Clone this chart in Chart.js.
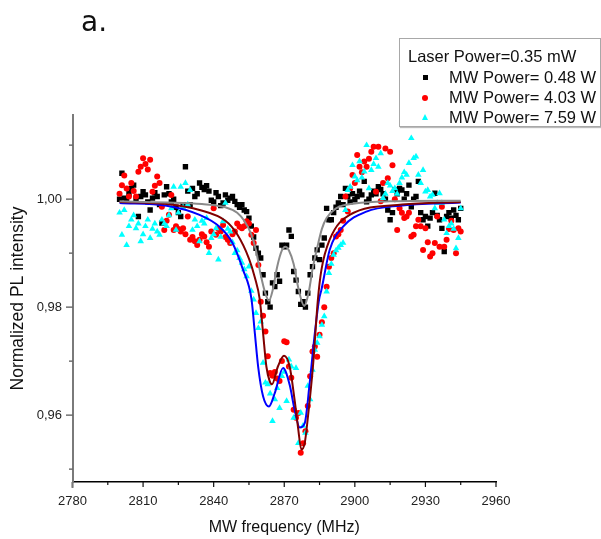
<!DOCTYPE html>
<html>
<head>
<meta charset="utf-8">
<script src="https://cdn.jsdelivr.net/npm/chart.js@4.4.1/dist/chart.umd.min.js"></script>
<style>
  body { margin: 0; background: #fff; }
  #wrap { position: relative; width: 601px; height: 539px; font-family: "Liberation Sans", Arial, sans-serif; }
  #panel { position: absolute; left: 81px; top: 8px; font: 28px/28px "DejaVu Sans", Verdana, sans-serif; color: #111; }
  #legend { position: absolute; left: 399px; top: 38px; width: 200px; height: 87px; border: 1px solid #a8a8a8;
            box-shadow: 1px 1px 1px #bbb; background: #fff; font-size: 16.5px; color: #111; }
  #legend span { position: absolute; line-height: 20px; white-space: nowrap; }
  .mk { position: absolute; }
  .sq { width: 5px; height: 5px; background: #000; }
  .ci { width: 6px; height: 6px; border-radius: 50%; background: #ff0000; }
  .tr { width: 0; height: 0; border-left: 3.5px solid transparent; border-right: 3.5px solid transparent; border-bottom: 6px solid #00ffff; }
</style>
</head>
<body>
<div id="wrap">
  <canvas id="chart" width="601" height="539"></canvas>
  <div id="panel">a.</div>
  <div id="legend">
    <span style="left:8px; top:7px">Laser Power=0.35 mW</span>
    <div class="mk sq" style="left:23px; top:36px"></div><span style="left:49px; top:28px">MW Power= 0.48 W</span>
    <div class="mk ci" style="left:22px; top:56px"></div><span style="left:49px; top:48px">MW Power= 4.03 W</span>
    <div class="mk tr" style="left:21.5px; top:75px"></div><span style="left:49px; top:68px">MW Power= 7.59 W</span>
  </div>
</div>
<script>
// sweep frequencies (MHz)
const freq = [
  2800, 2801, 2802, 2803, 2804, 2805, 2806, 2807, 2808, 2809,
  2810, 2811, 2812, 2813, 2814, 2815, 2816, 2817, 2818, 2819,
  2820, 2821, 2822, 2823, 2824, 2825, 2826, 2827, 2828, 2829,
  2830, 2831, 2832, 2833, 2834, 2835, 2836, 2837, 2838, 2839,
  2840, 2841, 2842, 2843, 2844, 2845, 2846, 2847, 2848, 2849,
  2850, 2851, 2852, 2853, 2854, 2855, 2856, 2857, 2858, 2859,
  2860, 2861, 2862, 2863, 2864, 2865, 2866, 2867, 2868, 2869,
  2870, 2871, 2872, 2873, 2874, 2875, 2876, 2877, 2878, 2879,
  2880, 2881, 2882, 2883, 2884, 2885, 2886, 2887, 2888, 2889,
  2890, 2891, 2892, 2893, 2894, 2895, 2896, 2897, 2898, 2899,
  2900, 2901, 2902, 2903, 2904, 2905, 2906, 2907, 2908, 2909,
  2910, 2911, 2912, 2913, 2914, 2915, 2916, 2917, 2918, 2919,
  2920, 2921, 2922, 2923, 2924, 2925, 2926, 2927, 2928, 2929,
  2930, 2931, 2932, 2933, 2934, 2935, 2936, 2937, 2938, 2939,
  2940, 2941, 2942, 2943, 2944, 2945
];

// MW Power = 0.48 W
const pl048 = [
  1.0000, 1.0048, 1.0002, 0.9998, 1.0010, 1.0020, 1.0026, 1.0000, 0.9968, 1.0005,
  1.0014, 1.0008, 0.9995, 0.9980, 1.0002, 1.0012, 1.0005, 0.9990, 0.9956, 1.0008,
  1.0023, 1.0010, 0.9995, 1.0000, 0.9985, 0.9975, 0.9968, 0.9990, 1.0060, 1.0015,
  0.9990, 1.0020, 1.0005, 1.0010, 1.0030, 1.0022, 1.0018, 1.0025, 1.0015, 0.9998,
  0.9995, 1.0012, 1.0005, 0.9988, 0.9993, 1.0008, 0.9998, 1.0002, 1.0005, 0.9996,
  0.9990, 0.9985, 0.9990, 0.9980, 0.9977, 0.9965, 0.9950, 0.9930, 0.9909, 0.9900,
  0.9891, 0.9860, 0.9826, 0.9810, 0.9800, 0.9845, 0.9838, 0.9860, 0.9848, 0.9915,
  0.9912, 0.9915, 0.9943, 0.9931, 0.9866, 0.9850, 0.9829, 0.9805, 0.9810, 0.9800,
  0.9826, 0.9860, 0.9875, 0.9891, 0.9906, 0.9888, 0.9915, 0.9928, 0.9983, 0.9962,
  0.9962, 0.9975, 0.9985, 0.9993, 1.0005, 0.9990, 1.0020, 1.0005, 0.9995, 1.0010,
  0.9999, 1.0005, 1.0015, 1.0008, 1.0033, 0.9995, 1.0000, 1.0008, 1.0015, 1.0010,
  1.0023, 1.0018, 1.0010, 1.0000, 0.9980, 0.9962, 0.9975, 1.0017, 1.0010, 1.0020,
  1.0017, 1.0000, 1.0010, 1.0026, 0.9986, 1.0000, 1.0005, 1.0033, 0.9975, 0.9962,
  0.9968, 0.9950, 0.9965, 0.9975, 1.0011, 0.9970, 0.9962, 0.9946, 0.9903, 0.9968,
  0.9975, 0.9965, 0.9980, 0.9970, 0.9962, 0.9983
];

// MW Power = 4.03 W
const pl403 = [
  1.0010, 1.0026, 1.0044, 1.0020, 1.0005, 1.0030, 1.0015, 1.0005, 1.0051, 1.0060,
  1.0076, 1.0065, 1.0055, 1.0073, 1.0014, 1.0025, 1.0042, 1.0030, 0.9986, 0.9943,
  0.9960, 0.9971, 1.0008, 0.9943, 0.9950, 0.9945, 0.9940, 0.9946, 0.9935, 0.9968,
  0.9925, 0.9930, 0.9922, 0.9915, 0.9925, 0.9935, 0.9931, 0.9920, 0.9912, 0.9940,
  0.9983, 0.9934, 0.9945, 0.9940, 0.9952, 0.9930, 0.9925, 0.9919, 0.9935, 0.9940,
  0.9955, 0.9949, 0.9946, 0.9950, 0.9959, 0.9955, 0.9934, 0.9919, 0.9943, 0.9878,
  0.9810, 0.9784, 0.9755, 0.9709, 0.9678, 0.9673, 0.9680, 0.9668, 0.9663, 0.9700,
  0.9737, 0.9735, 0.9690, 0.9669, 0.9610, 0.9595, 0.9604, 0.9530, 0.9548, 0.9570,
  0.9617, 0.9672, 0.9718, 0.9727, 0.9708, 0.9749, 0.9772, 0.9800, 0.9838, 0.9875,
  0.9891, 0.9900, 0.9931, 0.9935, 0.9943, 0.9960, 1.0005, 0.9977, 1.0020, 1.0045,
  1.0030, 1.0082, 1.0060, 1.0050, 1.0070, 1.0060, 1.0075, 1.0088, 1.0097, 1.0014,
  1.0097, 0.9996, 1.0030, 1.0094, 1.0039, 1.0088, 1.0063, 1.0000, 0.9943, 0.9983,
  0.9975, 0.9965, 0.9968, 0.9975, 0.9931, 0.9934, 0.9950, 0.9962, 0.9950, 0.9906,
  0.9946, 0.9920, 0.9894, 0.9900, 0.9919, 0.9968, 0.9912, 0.9986, 0.9912, 0.9925,
  0.9945, 0.9960, 0.9943, 0.9900, 0.9946, 0.9940
];

// MW Power = 7.59 W
const pl759 = [
  0.9975, 0.9934, 0.9980, 0.9915, 0.9950, 0.9962, 0.9970, 0.9946, 0.9955, 0.9922,
  0.9935, 0.9950, 0.9962, 0.9928, 0.9945, 0.9955, 0.9940, 0.9934, 0.9962, 0.9955,
  0.9950, 0.9970, 0.9983, 1.0023, 0.9943, 0.9975, 1.0023, 0.9985, 1.0030, 0.9990,
  1.0017, 0.9943, 0.9962, 0.9950, 0.9922, 0.9960, 0.9955, 0.9965, 0.9900, 0.9928,
  0.9935, 0.9946, 0.9888, 0.9930, 0.9959, 0.9993, 0.9945, 0.9940, 0.9920, 0.9900,
  0.9905, 0.9891, 0.9882, 0.9870, 0.9857, 0.9875, 0.9830, 0.9814, 0.9789, 0.9761,
  0.9773, 0.9697, 0.9660, 0.9657, 0.9640, 0.9589, 0.9629, 0.9650, 0.9613, 0.9672,
  0.9680, 0.9626, 0.9703, 0.9690, 0.9595, 0.9687, 0.9548, 0.9604, 0.9580, 0.9567,
  0.9654, 0.9629, 0.9684, 0.9721, 0.9734, 0.9746, 0.9767, 0.9783, 0.9829, 0.9863,
  0.9880, 0.9897, 0.9905, 0.9910, 0.9915, 0.9919, 0.9980, 1.0017, 1.0023, 1.0063,
  1.0042, 1.0035, 1.0070, 1.0040, 1.0051, 1.0100, 1.0020, 1.0054, 1.0065, 1.0076,
  1.0060, 1.0085, 1.0002, 1.0010, 1.0030, 1.0025, 1.0015, 1.0020, 1.0010, 1.0030,
  1.0040, 1.0050, 1.0045, 1.0067, 1.0113, 1.0076, 1.0079, 1.0045, 1.0030, 1.0054,
  1.0014, 1.0017, 1.0005, 1.0008, 0.9983, 0.9993, 1.0011, 0.9993, 0.9962, 0.9937,
  0.9950, 0.9955, 0.9945, 0.9909, 0.9928, 0.9983
];

// fitted curves
const fit048X = [2800, 2820, 2835, 2845, 2850, 2853, 2856, 2858, 2860, 2862, 2863.5, 2865, 2867, 2869, 2870.5,
                 2872, 2874, 2876, 2878.5, 2880.5, 2882, 2884, 2886, 2888, 2892, 2900, 2915, 2945];
const fit048Y = [0.9996, 0.9994, 0.9991, 0.9985, 0.9975, 0.9960, 0.9935, 0.9905, 0.9860, 0.9825, 0.9812, 0.9830, 0.9875, 0.9905, 0.9912,
                 0.9905, 0.9880, 0.9835, 0.9802, 0.9830, 0.9870, 0.9910, 0.9945, 0.9965, 0.9983, 0.9992, 0.9996, 0.9997];

const fit403X = [2800, 2820, 2834, 2845, 2850, 2855, 2857.5, 2859.6, 2861, 2862.4, 2863.8, 2864.8, 2867.3, 2869.9,
                 2872.3, 2874.4, 2875.8, 2877.3, 2878.7, 2880.1, 2882.2, 2884.3, 2885.8, 2889.3, 2897.8, 2920, 2945];
const fit403Y = [0.9995, 0.9991, 0.9980, 0.9960, 0.9935, 0.9890, 0.9855, 0.9814, 0.9752, 0.9690, 0.9663, 0.9657, 0.9690, 0.9710,
                 0.9690, 0.9628, 0.9579, 0.9536, 0.9548, 0.9598, 0.9690, 0.9814, 0.9869, 0.9925, 0.9971, 0.9990, 0.9995];

const fit759X = [2800, 2820, 2834, 2842.5, 2848, 2852.5, 2856.1, 2857.5, 2858.9, 2861, 2863.5, 2866, 2869.5,
                 2872.3, 2874.4, 2876.6, 2878.7, 2880.8, 2883, 2884.8, 2885.8, 2889.3, 2895, 2904.9, 2919, 2945];
const fit759Y = [0.9993, 0.9988, 0.9971, 0.9949, 0.9919, 0.9869, 0.9814, 0.9752, 0.9690, 0.9635, 0.9616, 0.9641, 0.9687,
                 0.9656, 0.9610, 0.9577, 0.9585, 0.9659, 0.9752, 0.9814, 0.9832, 0.9906, 0.9949, 0.9977, 0.9988, 0.9994];

const xMajor = [2780, 2810, 2840, 2870, 2900, 2930, 2960];
const xMinor = [2795, 2825, 2855, 2885, 2915, 2945];
const yMajor = [0.96, 0.98, 1.00];
const yMinor = [0.95, 0.97, 0.99, 1.01];

const FONT = '"Liberation Sans", Arial, sans-serif';

const pts = (xs, ys) => xs.map((v, i) => ({ x: v, y: ys[i] }));

// tick marks drawn by hand, Origin style (long majors, short minors)
const tickMarks = {
  id: 'tickMarks',
  afterDraw(chart) {
    const { ctx, chartArea, scales } = chart;
    const x = scales.x, y = scales.y;
    ctx.save();
    ctx.lineWidth = 1.2;
    ctx.strokeStyle = '#111';
    ctx.beginPath();
    xMajor.forEach(v => { const p = x.getPixelForValue(v); ctx.moveTo(p, chartArea.bottom); ctx.lineTo(p, chartArea.bottom + 5); });
    xMinor.forEach(v => { const p = x.getPixelForValue(v); ctx.moveTo(p, chartArea.bottom); ctx.lineTo(p, chartArea.bottom + 3); });
    ctx.stroke();
    ctx.strokeStyle = '#555';
    ctx.beginPath();
    yMajor.forEach(v => { const p = y.getPixelForValue(v); ctx.moveTo(chartArea.left, p); ctx.lineTo(chartArea.left - 6.5, p); });
    yMinor.forEach(v => { const p = y.getPixelForValue(v); ctx.moveTo(chartArea.left, p); ctx.lineTo(chartArea.left - 3.5, p); });
    ctx.stroke();
    // y axis runs a little past the x axis
    ctx.strokeStyle = '#7a7a7a';
    ctx.lineWidth = 2;
    ctx.beginPath();
    ctx.moveTo(chartArea.left, chartArea.bottom);
    ctx.lineTo(chartArea.left, chartArea.bottom + 6);
    ctx.stroke();
    ctx.restore();
  }
};

new Chart(document.getElementById('chart'), {
  type: 'scatter',
  data: {
    datasets: [
      { type: 'line', data: pts(fit048X, fit048Y), borderColor: '#8a8a8a', borderWidth: 2, pointRadius: 0, cubicInterpolationMode: 'monotone', order: 1 },
      { type: 'line', data: pts(fit403X, fit403Y), borderColor: '#800000', borderWidth: 2, pointRadius: 0, cubicInterpolationMode: 'monotone', order: 1 },
      { type: 'line', data: pts(fit759X, fit759Y), borderColor: '#0000ff', borderWidth: 2, pointRadius: 0, cubicInterpolationMode: 'monotone', order: 1 },
      { label: 'MW Power= 7.59 W', data: pts(freq, pl759), pointStyle: 'triangle', pointRadius: 3.8, backgroundColor: '#00ffff', borderColor: '#00ffff', borderWidth: 0, order: 2 },
      { label: 'MW Power= 4.03 W', data: pts(freq, pl403), pointStyle: 'circle', pointRadius: 3, backgroundColor: '#ff0000', borderColor: '#ff0000', borderWidth: 0, order: 3 },
      { label: 'MW Power= 0.48 W', data: pts(freq, pl048), pointStyle: 'rect', pointRadius: 3.8, backgroundColor: '#000', borderColor: '#000', borderWidth: 0, order: 4 }
    ]
  },
  options: {
    responsive: false,
    animation: false,
    layout: { padding: { left: 0, top: 115, right: 105, bottom: 0 } },
    plugins: { legend: { display: false }, tooltip: { enabled: false } },
    scales: {
      x: {
        type: 'linear', min: 2780, max: 2960,
        afterBuildTicks: s => { s.ticks = xMajor.map(v => ({ value: v })); },
        afterFit: s => { s.height = 57; },
        grid: { display: false, drawTicks: false },
        border: { display: true, color: '#000', width: 1.5 },
        ticks: { padding: 12, color: '#222', font: { family: FONT, size: 13 }, callback: v => String(v) },
        title: { display: true, text: 'MW frequency (MHz)', color: '#111', font: { family: FONT, size: 16 }, padding: { top: 1.4, bottom: 1.4 } }
      },
      y: {
        type: 'linear', min: 0.9476, max: 1.0156,
        afterBuildTicks: s => { s.ticks = yMajor.map(v => ({ value: v })); },
        afterFit: s => { s.width = 72.5; },
        grid: { display: false, drawTicks: false },
        border: { display: true, color: '#7a7a7a', width: 2 },
        ticks: { padding: 10.5, color: '#222', font: { family: FONT, size: 13 }, callback: v => v.toFixed(2).replace('.', ',') },
        title: { display: true, text: 'Normalized PL intensity', color: '#111', font: { family: FONT, size: 17.5 }, padding: { top: 7.5, bottom: 0 } }
      }
    }
  },
  plugins: [tickMarks]
});
</script>
</body>
</html>
